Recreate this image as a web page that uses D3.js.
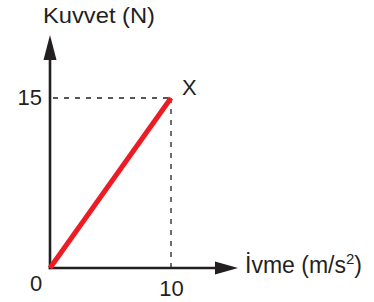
<!DOCTYPE html>
<html>
<head>
<meta charset="utf-8">
<script src="https://cdn.jsdelivr.net/npm/d3@7"></script>
<style>
html,body{margin:0;padding:0;background:#fff;}
svg{display:block;}
text{font-family:"Liberation Sans",Arial,Helvetica,sans-serif;fill:#231f20;}
</style>
</head>
<body>
<svg id="chart" width="374" height="302"></svg>
<script>
// Data
const accel = [0, 10];          // İvme (m/s²)
const force = [0, 15];          // Kuvvet (N)
const xTicks = [10];
const yTicks = [15];
const pointLabel = "X";
const yTitle = "Kuvvet (N)";
const xTitle = "İvme (m/s";

const svg = d3.select("#chart");
const x = d3.scaleLinear().domain([0, 10]).range([50, 171]);
const y = d3.scaleLinear().domain([0, 15]).range([268, 98]);
const ink = "#231f20";

// dashed guides
const lastX = accel[accel.length-1], lastY = force[force.length-1];
svg.append("line").attr("x1", x(0)+3).attr("x2", x(lastX)).attr("y1", y(lastY)).attr("y2", y(lastY))
  .attr("stroke", ink).attr("stroke-width", 1.3).attr("stroke-dasharray", "5,6");
svg.append("line").attr("x1", x(lastX)).attr("x2", x(lastX)).attr("y1", y(lastY)).attr("y2", y(0))
  .attr("stroke", ink).attr("stroke-width", 1.3).attr("stroke-dasharray", "5,6");

// axes
svg.append("line").attr("x1", x(0)).attr("x2", x(0)).attr("y1", y(0)+1.2).attr("y2", 58)
  .attr("stroke", ink).attr("stroke-width", 2.6);
svg.append("line").attr("x1", x(0)-1.2).attr("x2", 218).attr("y1", y(0)).attr("y2", y(0))
  .attr("stroke", ink).attr("stroke-width", 2.6);
// arrowheads
svg.append("path").attr("d", `M${x(0)},35 L${x(0)+6.5},60 L${x(0)-6.5},60 Z`).attr("fill", ink);
svg.append("path").attr("d", `M238,${y(0)} L215,${y(0)-6.5} L215,${y(0)+6.5} Z`).attr("fill", ink);

// data line
svg.append("path").datum(accel.map((a,i)=>[a, force[i]]))
  .attr("d", d3.line().x(d=>x(d[0])).y(d=>y(d[1])))
  .attr("stroke", "#ed1c24").attr("stroke-width", 5).attr("fill", "none");

// tick labels
svg.append("text").attr("x", 36).attr("y", 291).attr("text-anchor", "middle")
  .attr("font-size", 22).text("0");
svg.selectAll(".xt").data(xTicks).enter().append("text")
  .attr("x", d=>x(d)+0.5).attr("y", 296).attr("text-anchor", "middle").attr("font-size", 22).text(d=>d);
svg.selectAll(".yt").data(yTicks).enter().append("text")
  .attr("x", 42).attr("y", d=>y(d)+6.5).attr("text-anchor", "end").attr("font-size", 22).text(d=>d);

// point label
svg.append("text").attr("x", x(lastX)+11).attr("y", y(lastY)-3).attr("font-size", 22).text(pointLabel);

// titles
svg.append("text").attr("x", 43).attr("y", 23).attr("font-size", 22)
  .attr("textLength", 112).attr("lengthAdjust", "spacingAndGlyphs").text(yTitle);
const xt = svg.append("text").attr("x", 245).attr("y", 273).attr("font-size", 23);
xt.append("tspan").text(xTitle);
xt.append("tspan").attr("font-size", 15).attr("dy", -9).text("2");
xt.append("tspan").attr("dy", 9).text(")");
</script>
</body>
</html>
